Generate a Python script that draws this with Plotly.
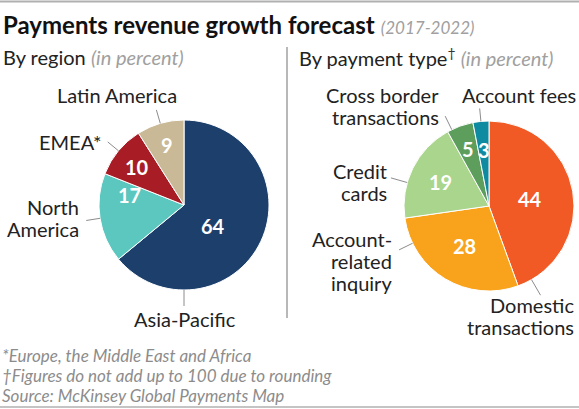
import math
import plotly.graph_objects as go

W, H = 579, 409

# ---- data ----
region_labels = ["Asia-Pacific", "North America", "EMEA*", "Latin America"]
region_values = [64, 17, 10, 9]
region_colors = ["#1c3f6c", "#5cc7bf", "#a81d25", "#c9b997"]

type_labels = ["Domestic transactions", "Account-related inquiry", "Credit cards",
               "Cross border transactions", "Account fees"]
type_values = [44, 28, 19, 5, 3]
type_colors = ["#f15a24", "#f8a31b", "#a9d58d", "#5d9e5c", "#0e8ba1"]

# ---- layout helpers (pixel geometry of the page) ----
FONT = "Lato"
LABEL_SIZE = 20
LINE_GAP = 22

def fx(x):
    return x / W

def fy(y):
    return 1 - y / H

pies = [
    dict(labels=region_labels, values=region_values, colors=region_colors,
         cx=184, cy=205, r=85,
         # label lines, x, center y, xanchor
         label_pos=[(["Asia-Pacific"], 185, 319, "center"),
                    (["North", "America"], 81, 218, "right"),
                    (["EMEA*"], 70, 142, "center"),
                    (["Latin America"], 117, 95, "center")],
         leader_angle=[180, None, None, None],
         leader_len=[16, 14, 14, 14],
         num_angle=[127, 280, None, None],
         num_rad=[0.42, 0.65, 0.71, 0.73]),
    dict(labels=type_labels, values=type_values, colors=type_colors,
         cx=489, cy=206, r=85,
         label_pos=[(["Domestic", "transactions"], 576, 316, "right"),
                    (["Account-", "related", "inquiry"], 394, 261, "right"),
                    (["Credit", "cards"], 389, 182, "right"),
                    (["Cross border", "transactions"], 441, 106, "right"),
                    (["Account fees"], 519, 95, "center")],
         leader_angle=[150, 244, 286, 334, None],
         leader_len=[18, 15, 17, 15, 13],
         num_angle=[None, None, None, None, None],
         num_rad=[0.49, 0.55, 0.64, 0.71, 0.66]),
]

fig = go.Figure()
shapes = []
annotations = []

for p in pies:
    cx, cy, r = p["cx"], p["cy"], p["r"]
    fig.add_trace(go.Pie(
        labels=p["labels"], values=p["values"],
        marker=dict(colors=p["colors"], line=dict(color="white", width=1)),
        sort=False, direction="clockwise", rotation=0,
        textinfo="none", hoverinfo="label+value", showlegend=False,
        domain=dict(x=[fx(cx - r), fx(cx + r)], y=[fy(cy + r), fy(cy - r)]),
    ))
    total = sum(p["values"])
    cum = 0
    for i, v in enumerate(p["values"]):
        mid = (cum + v / 2) / total * 360
        cum += v
        # number inside slice
        a = p["num_angle"][i] if p["num_angle"][i] is not None else mid
        rr = p["num_rad"][i] * r
        nx = cx + rr * math.sin(math.radians(a))
        ny = cy - rr * math.cos(math.radians(a))
        annotations.append(dict(x=fx(nx), y=fy(ny), xref="paper", yref="paper",
                                text="<b>%d</b>" % v, showarrow=False,
                                font=dict(family=FONT, size=20, color="white"),
                                xanchor="center", yanchor="middle"))
        # leader line
        la = p["leader_angle"][i] if p["leader_angle"][i] is not None else mid
        s, c = math.sin(math.radians(la)), math.cos(math.radians(la))
        x0, y0 = cx + r * s, cy - r * c
        L = p["leader_len"][i]
        x1, y1 = x0 + L * s, y0 - L * c
        shapes.append(dict(type="line", xref="paper", yref="paper",
                           x0=fx(x0), y0=fy(y0), x1=fx(x1), y1=fy(y1),
                           line=dict(color="#8c8c8c", width=1)))
        # outer label, one annotation per line for tight line spacing
        lines, lx, ly, xa = p["label_pos"][i]
        n = len(lines)
        for k, t in enumerate(lines):
            yy = ly + (k - (n - 1) / 2) * LINE_GAP
            annotations.append(dict(x=fx(lx), y=fy(yy), xref="paper", yref="paper",
                                    text=t, showarrow=False,
                                    font=dict(family=FONT, size=LABEL_SIZE, color="#222222"),
                                    xanchor=xa, yanchor="middle"))

# headings
annotations.append(dict(x=fx(1), y=fy(24), xref="paper", yref="paper",
                        text="<b>Payments revenue growth forecast</b> "
                             "<span style='color:#a0a0a0;font-size:17px'><i>(2017-2022)</i></span>",
                        showarrow=False, xanchor="left", yanchor="middle",
                        font=dict(family=FONT, size=24, color="#111111")))
annotations.append(dict(x=fx(1), y=fy(57), xref="paper", yref="paper",
                        text="By region <span style='color:#a0a0a0'><i>(in percent)</i></span>",
                        showarrow=False, xanchor="left", yanchor="middle",
                        font=dict(family=FONT, size=20, color="#222222")))
annotations.append(dict(x=fx(297), y=fy(57), xref="paper", yref="paper",
                        text="By payment type<sup style='color:#333333'>†</sup> "
                             "<span style='color:#a0a0a0'><i>(in percent)</i></span>",
                        showarrow=False, xanchor="left", yanchor="middle",
                        font=dict(family=FONT, size=20, color="#222222")))

# footnotes
notes = ["*Europe, the Middle East and Africa",
         "†Figures do not add up to 100 due to rounding",
         "Source: McKinsey Global Payments Map"]
for k, t in enumerate(notes):
    annotations.append(dict(x=fx(0), y=fy(355 + 20 * k), xref="paper", yref="paper",
                            text="<i>%s</i>" % t, showarrow=False,
                            xanchor="left", yanchor="middle",
                            font=dict(family=FONT, size=17, color="#8c8c8c")))

# borders and divider
shapes.append(dict(type="line", xref="paper", yref="paper", x0=0, x1=1,
                   y0=fy(1.5), y1=fy(1.5), line=dict(color="#b0b0b0", width=2)))
shapes.append(dict(type="line", xref="paper", yref="paper", x0=0, x1=1,
                   y0=fy(407), y1=fy(407), line=dict(color="#b0b0b0", width=1.5)))
shapes.append(dict(type="line", xref="paper", yref="paper", x0=fx(287), x1=fx(287),
                   y0=fy(47), y1=fy(318), line=dict(color="#a0a0a0", width=1.5)))

fig.update_layout(width=W, height=H, autosize=False,
                  margin=dict(l=0, r=0, t=0, b=0),
                  paper_bgcolor="white", plot_bgcolor="white",
                  shapes=shapes, annotations=annotations,
                  font=dict(family=FONT))

fig.write_html("out.html", config={"displayModeBar": False},
               post_script="document.body.style.margin='0';document.body.style.overflow='hidden';")
